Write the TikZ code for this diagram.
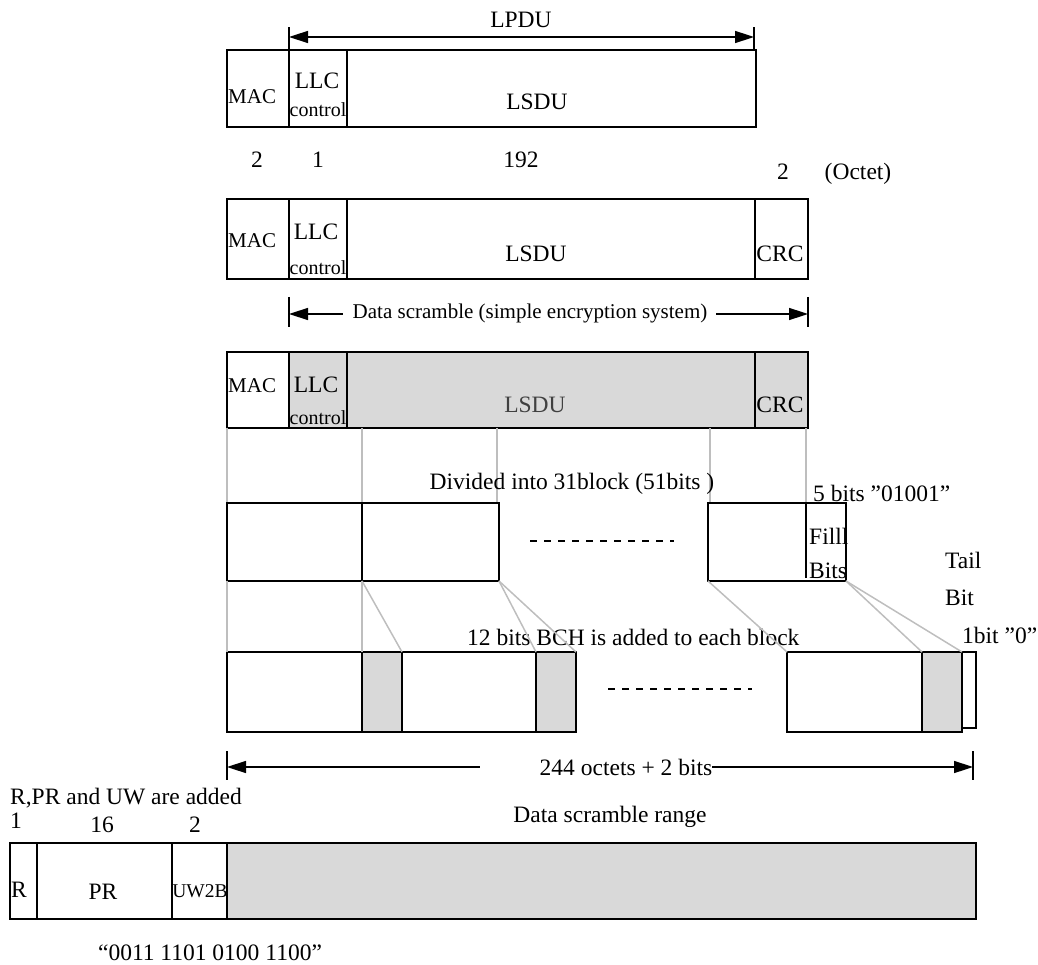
\documentclass[tikz,border=0pt]{standalone}
\usepackage{fontspec}
\setmainfont{Liberation Serif}
\usetikzlibrary{arrows.meta}
\definecolor{shade}{HTML}{D9D9D9}
\definecolor{linkgray}{HTML}{BEBEBE}
\newcommand\fsz[1]{\fontsize{#1}{#1}\selectfont}
\begin{document}
\begin{tikzpicture}[x=1pt,y=-1pt,
  cell/.style={draw, line width=1.8pt, inner sep=0pt, outer sep=0pt, anchor=north west},
  shaded/.style={cell, fill=shade},
  txt/.style={inner sep=0pt, anchor=base, font=\fsz{23.5}},
  txtl/.style={txt, anchor=base west},
  link/.style={draw=linkgray, line width=1.5pt},
  tick/.style={line width=1.5pt},
  tip/.tip={Triangle[length=19pt,width=12pt]},
  dim/.style={line width=1.5pt, -tip},
  dashrow/.style={line width=1.3pt, dash pattern=on 7pt off 7pt},
]
\useasboundingbox (0,0) rectangle (1038,965);

% ---------- Row 1 ----------
\node[cell, minimum width=62pt, minimum height=77pt] (r1mac) at (227,50) {};
\node[cell, minimum width=58pt, minimum height=77pt] (r1llc) at (289,50) {};
\node[cell, minimum width=409pt, minimum height=77pt] (r1lsdu) at (347,50) {};
\node[txtl, font=\fsz{21}] (t1mac) at (228,104) {MAC};
\node[txt] (t1llc) at (317,89) {LLC};
\node[txt, font=\fsz{20}] (t1ctl) at (318,117) {control};
\node[txt] (t1lsdu) at (537,110) {LSDU};

% LPDU dimension
\coordinate (lpL) at (289,37);
\coordinate (lpR) at (754,37);
\draw[tick] (r1llc.north west) -- ++(0,-23);
\draw[tick] (754,50) coordinate (lpRb) -- ++(0,-23);
\draw[line width=1.5pt, tip-tip] (lpL) -- (lpR);
\node[txt] (tlpdu) at (521,28) {LPDU};

% octet counts
\node[txt] (n1) at (257,168) {2};
\node[txt] (n2) at (318,168) {1};
\node[txt] (n3) at (521,168) {192};
\node[txt] (n4) at (783,180) {2};
\node[txt] (n5) at (858,180) {(Octet)};

% ---------- Row 2 ----------
\node[cell, minimum width=62pt, minimum height=80pt] (r2mac) at (227,199) {};
\node[cell, minimum width=58pt, minimum height=80pt] (r2llc) at (289,199) {};
\node[cell, minimum width=408pt, minimum height=80pt] (r2lsdu) at (347,199) {};
\node[cell, minimum width=53pt, minimum height=80pt] (r2crc) at (755,199) {};
\node[txtl, font=\fsz{21}] (t2mac) at (228,248) {MAC};
\node[txt] (t2llc) at (316,240) {LLC};
\node[txt, font=\fsz{20}] (t2ctl) at (318,275) {control};
\node[txt] (t2lsdu) at (536,262) {LSDU};
\node[txt] (t2crc) at (780,262) {CRC};

% data scramble dimension
\coordinate (dsL) at (289,314);
\coordinate (dsR) at (808,314);
\draw[tick] (289,297) -- (289,327);
\draw[tick] (808,297) -- (808,327);
\node[txt, font=\fsz{21}] (tds) at (530,319) {Data scramble (simple encryption system)};
\draw[dim] ([xshift=-10pt]tds.west |- dsL) -- (dsL);
\draw[dim] ([xshift=9pt]tds.east |- dsR) -- (dsR);

% ---------- Row 3 ----------
\node[cell, minimum width=62pt, minimum height=76pt] (r3mac) at (227,352) {};
\node[shaded, minimum width=58pt, minimum height=76pt] (r3llc) at (289,352) {};
\node[shaded, minimum width=408pt, minimum height=76pt] (r3lsdu) at (347,352) {};
\node[shaded, minimum width=53pt, minimum height=76pt] (r3crc) at (755,352) {};
\node[txtl, font=\fsz{21}] (t3mac) at (228,392) {MAC};
\node[txt] (t3llc) at (316,392) {LLC};
\node[txt, font=\fsz{20}] (t3ctl) at (318,424) {control};
\node[txt, text=black!75] (t3lsdu) at (535,412) {LSDU};
\node[txt] (t3crc) at (780,412) {CRC};

% ---------- links row 3 -> row 4 ----------
\coordinate (fillT) at (806,503);
\coordinate (b4bR) at (497,503);
\coordinate (b4cL) at (710,503);
\draw[link] (r3mac.south west) -- (227,503) coordinate (b4aT);
\draw[link] (362,428) -- (362,503) coordinate (b4abT);
\draw[link] (b4bR |- r3lsdu.south) -- (b4bR);
\draw[link] (b4cL |- r3lsdu.south) -- (b4cL);
\draw[link] (fillT |- r3crc.south) -- (fillT);

\node[txt] (tdiv) at (572,489) {Divided into 31block (51bits )};
\node[txtl] (t5bits) at (813,501) {5 bits ”01001”};

% ---------- Row 4 ----------
\node[cell, minimum width=135pt, minimum height=78pt] (b4a) at (227,503) {};
\node[cell, minimum width=137pt, minimum height=78pt] (b4b) at (362,503) {};
\node[cell, minimum width=138pt, minimum height=78pt] (b4c) at (708,503) {};
\coordinate (fillB) at (806,578);
\draw[line width=1.8pt] (fillT) -- (fillB);
\node[txtl] (tfill) at (809,544) {Filll};
\node[txtl] (tbits) at (809,578) {Bits};
\coordinate (d4a) at (530,541);
\coordinate (d4b) at (674,541);
\draw[dashrow] (d4a) -- (d4b);

\node[txtl] (ttail) at (945,568) {Tail};
\node[txtl] (tbit) at (945,605) {Bit};
\node[txtl] (t1bit) at (962,643) {1bit ”0”};
\node[txtl] (tbch) at (467,645) {12 bits BCH is added to each block};

% ---------- Row 5 ----------
\node[cell, minimum width=135pt, minimum height=80pt] (b5a) at (227,652) {};
\node[shaded, minimum width=40pt, minimum height=80pt] (b5p1) at (362,652) {};
\node[cell, minimum width=134pt, minimum height=80pt] (b5b) at (402,652) {};
\node[shaded, minimum width=40pt, minimum height=80pt] (b5p2) at (536,652) {};
\node[cell, minimum width=135pt, minimum height=80pt] (b5c) at (787,652) {};
\node[shaded, minimum width=40pt, minimum height=80pt] (b5p3) at (922,652) {};
\node[cell, line width=1.5pt, minimum width=14pt, minimum height=76pt] (b5t) at (962,652) {};
\coordinate (d5a) at (608,689);
\coordinate (d5b) at (752,689);
\draw[dashrow] (d5a) -- (d5b);

% ---------- links row 4 -> row 5 ----------
\draw[link] (b4a.south west) -- (b5a.north west);
\draw[link] (b4a.south east) -- (b5a.north east);
\draw[link] (b4b.south west) -- (b5p1.north east);
\draw[link] (b4b.south east) -- (b5b.north east);
\draw[link] (b4b.south east) -- (b5p2.north east);
\draw[link] (b4c.south west) -- (b5c.north west);
\draw[link] (b4c.south east) -- (b5p3.north west);
\draw[link] (b4c.south east) -- (b5p3.north east);

% ---------- 244 octets dimension ----------
\coordinate (aL) at (227,767);
\coordinate (aR) at (973,767);
\draw[tick] (227,751) -- (227,780);
\draw[tick] (973,751) -- (973,780);
\node[txt] (t244) at (626,775) {244 octets + 2 bits};
\draw[dim] ([xshift=-60pt]t244.west |- aL) -- (aL);
\draw[dim] (t244.east |- aR) -- (aR);

% ---------- Row 6 ----------
\node[txtl] (tadd) at (10,804) {R,PR and UW are added};
\node[txt] (m1) at (16,828) {1};
\node[txt] (m2) at (102,832) {16};
\node[txt] (m3) at (195,832) {2};
\node[txt] (tdsr) at (610,822) {Data scramble range};

\node[cell, minimum width=27pt, minimum height=76pt] (r6r) at (10,843) {};
\node[cell, minimum width=135pt, minimum height=76pt] (r6pr) at (37,843) {};
\node[cell, minimum width=55pt, minimum height=76pt] (r6uw) at (172,843) {};
\node[shaded, minimum width=749pt, minimum height=76pt] (r6d) at (227,843) {};
\node[txtl] (t6r) at (11,897) {R};
\node[txt] (t6pr) at (103,899) {PR};
\node[txt, font=\fsz{19.5}] (t6uw) at (200,897) {UW2B};
\node[txt] (tpat) at (210,960) {“0011 1101 0100 1100”};
\end{tikzpicture}
\end{document}
